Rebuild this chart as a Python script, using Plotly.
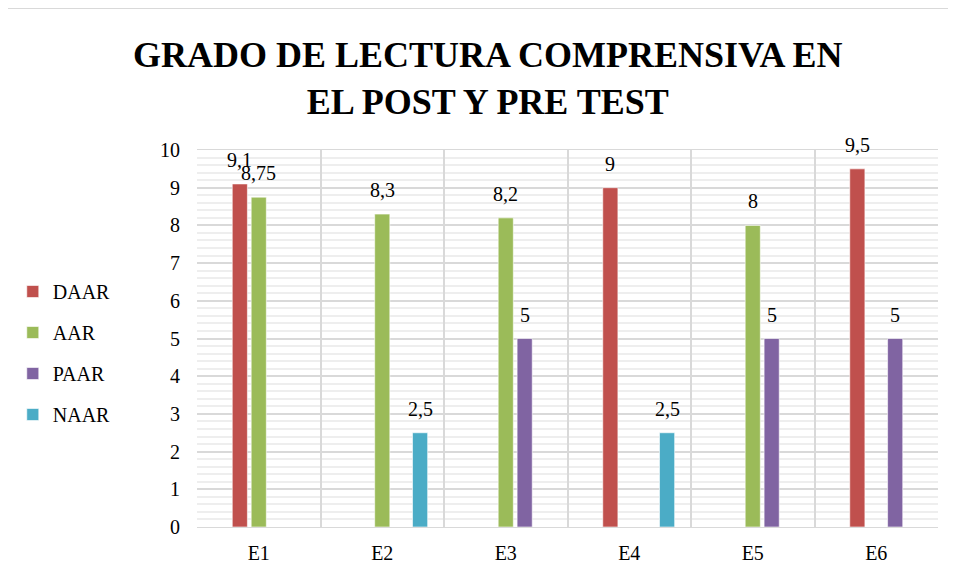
import plotly.graph_objects as go

categories = ["E1", "E2", "E3", "E4", "E5", "E6"]
# first series is empty in the source chart (it only takes a slot in each group)
series_names = ["", "DAAR", "AAR", "PAAR", "NAAR"]
blank = [None, None, None, None, None, None]
daar = [9.1, None, None, 9, None, 9.5]
aar = [8.75, 8.3, 8.2, None, 8, None]
paar = [None, None, 5, None, 5, 5]
naar = [None, 2.5, None, 2.5, None, None]
colors = ["#4F81BD", "#C0504D", "#9BBB59", "#8064A2", "#4BACC6"]

# the page body adds an 8px margin, so the figure is placed at (8, 8)
W, H = 956, 580
L, R, T, B = 189, 26, 142, 61
plot_w = W - L - R
plot_h = H - T - B
bargap = 0.234
slot_px = plot_w / len(categories) * (1 - bargap) / len(series_names)

font_family = "Times New Roman"

fig = go.Figure()
for i, (name, vals, color) in enumerate(zip(series_names, [blank, daar, aar, paar, naar], colors)):
    fig.add_trace(
        go.Bar(
            x=categories,
            y=vals,
            name=name,
            legendgroup=name or "blank",
            showlegend=bool(name),
            marker=dict(color=color, line=dict(color="white", width=0.6)),
        )
    )
    for cat, v in zip(categories, vals):
        if v is None:
            continue
        fig.add_annotation(
            x=cat,
            y=v,
            text=str(v).replace(".", ","),
            showarrow=False,
            xshift=(i - 2) * slot_px,
            yshift=24,
            yanchor="middle",
            font=dict(size=20, family=font_family),
        )

fig.add_annotation(
    text="<b>GRADO DE LECTURA COMPRENSIVA EN<br>EL POST Y PRE TEST</b>",
    xref="paper",
    yref="paper",
    x=(479 - L) / plot_w,
    y=(H - B - 25) / plot_h,
    xanchor="center",
    yanchor="top",
    showarrow=False,
    font=dict(size=36, family=font_family),
)

fig.add_shape(
    type="rect",
    xref="paper",
    yref="paper",
    x0=(-4 - L) / plot_w,
    x1=(W + 2 - L) / plot_w,
    y0=(H - B - (H + 5)) / plot_h,
    y1=(H - B - 0.5) / plot_h,
    line=dict(color="#d9d9d9", width=1),
)

fig.update_layout(
    width=W,
    height=H,
    margin=dict(l=L, r=R, t=T, b=B, autoexpand=False),
    paper_bgcolor="white",
    plot_bgcolor="white",
    barmode="group",
    bargap=bargap,
    bargroupgap=0.2,
    font=dict(family=font_family, size=20, color="black"),
    legend=dict(
        xref="container",
        yref="container",
        x=0.005,
        xanchor="left",
        y=(H - 345) / H,
        yanchor="middle",
        tracegroupgap=12,
        font=dict(size=20, family=font_family),
        itemwidth=30,
    ),
)

fig.update_xaxes(
    type="category",
    tickson="boundaries",
    showgrid=True,
    gridcolor="#d9d9d9",
    gridwidth=1.5,
    ticks="",
    showline=True,
    linecolor="#d9d9d9",
    mirror=True,
    tickfont=dict(size=20, family=font_family),
    ticklabelstandoff=8,
)

fig.update_yaxes(
    range=[0, 10],
    dtick=1,
    showgrid=True,
    gridcolor="#d9d9d9",
    gridwidth=1.5,
    zeroline=False,
    showline=False,
    ticks="",
    tickfont=dict(size=20, family=font_family),
    ticklabelstandoff=16,
    minor=dict(dtick=0.2, showgrid=True, gridcolor="#eeeeee", gridwidth=1.5),
)

fig.write_html("out.html")
